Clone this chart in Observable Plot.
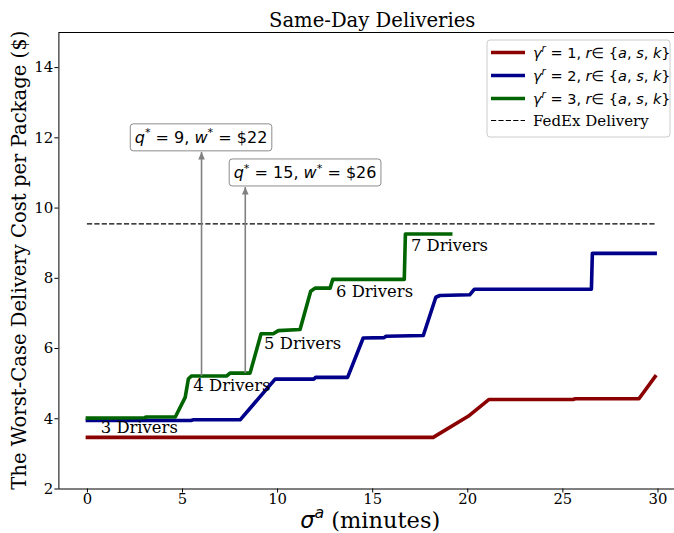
<!DOCTYPE html>
<html>
<head>
<meta charset="utf-8">
<script src="https://cdn.jsdelivr.net/npm/d3@7"></script>
<script src="https://cdn.jsdelivr.net/npm/@observablehq/plot@0.6"></script>
<style>
  html, body { margin: 0; padding: 0; background: #fff; overflow: hidden; }
  #chart svg { display: block; }
</style>
</head>
<body>
<div id="chart"></div>
<script>
// Worst-case delivery cost per package against σ^a, one series per γ^r level
const redX   = [0, 18.18, 20.02, 21.12, 25.54, 25.65, 29.0, 29.85];
const redY   = [3.47, 3.47, 4.07, 4.55, 4.55, 4.57, 4.57, 5.2];

const blueX  = [0, 5.45, 5.55, 8.03, 9.87, 11.9, 12.0, 13.68, 14.5, 15.6, 15.7, 17.66, 18.32, 18.53, 20.1, 20.35, 26.5, 26.55, 29.85];
const blueY  = [3.95, 3.95, 3.97, 3.97, 5.13, 5.13, 5.18, 5.18, 6.30, 6.31, 6.35, 6.37, 7.46, 7.51, 7.53, 7.69, 7.69, 8.71, 8.71];

const greenX = [0, 3.0, 3.1, 4.62, 5.14, 5.31, 5.48, 7.33, 7.5, 8.55, 9.13, 9.77, 10.04, 11.18, 11.74, 11.97, 12.76, 12.9, 16.66, 16.72, 19.1];
const greenY = [4.02, 4.03, 4.05, 4.05, 4.61, 5.14, 5.22, 5.22, 5.30, 5.30, 6.42, 6.42, 6.51, 6.54, 7.63, 7.72, 7.72, 7.97, 7.97, 9.26, 9.26];

// FedEx benchmark cost
const fedexX = [0, 29.85];
const fedexY = 9.55;

// fleet-size labels placed along the γ^r = 3 curve
const driverText = ["3 Drivers", "4 Drivers", "5 Drivers", "6 Drivers", "7 Drivers"];
const driverX    = [0.7, 5.57, 9.29, 13.07, 17.01];
const driverY    = [3.59, 4.80, 5.99, 7.48, 8.79];

// optimal (q*, w*) call-outs
const annoText   = ["q^* = 9, w^* = $22", "q^* = 15, w^* = $26"];
const annoX      = [6.0, 8.3];
const annoFrom   = [5.22, 5.30];
const annoTo     = [11.6, 10.6];
const annoBoxX   = [6.0, 11.47];
const annoBoxY   = [12.0, 11.0];

// axes
const xTicks = [0, 5, 10, 15, 20, 25, 30];
const yTicks = [2, 4, 6, 8, 10, 12, 14];

// legend entries
const legendText  = ["γ^r = 1, r∈ {a, s, k}", "γ^r = 2, r∈ {a, s, k}", "γ^r = 3, r∈ {a, s, k}", "FedEx Delivery"];
const legendColor = ["#8b0000", "#00008b", "#006400", "#000000"];

const toRows = (xs, ys) => xs.map((x, i) => ({x, y: ys[i]}));
const redRows = toRows(redX, redY);
const blueRows = toRows(blueX, blueY);
const greenRows = toRows(greenX, greenY);
const drivers = driverText.map((t, i) => ({t, x: driverX[i], y: driverY[i]}));
const annos = annoText.map((t, i) => ({t, x: annoX[i], from: annoFrom[i], to: annoTo[i], bx: annoBoxX[i], by: annoBoxY[i]}));

const SERIF = "'DejaVu Serif', serif";
const SANS = "'DejaVu Sans', sans-serif";

// filled arrow head with its tip at the anchor point
const arrowHead = {
  draw(ctx) {
    ctx.moveTo(0, 0);
    ctx.lineTo(-3.3, 7.5);
    ctx.lineTo(3.3, 7.5);
    ctx.closePath();
  }
};

const lineStyle = {x: "x", y: "y", strokeWidth: 3.6, strokeLinecap: "square", strokeLinejoin: "round"};

const W = 674, H = 533;
const mL = 58.4, mR = -12, mT = 32, mB = 44.5;

const plot = Plot.plot({
  width: W,
  height: H,
  marginLeft: mL,
  marginRight: mR,
  marginTop: mT,
  marginBottom: mB,
  style: {fontFamily: SERIF, fontSize: "15px", background: "#fff", color: "#000", overflow: "hidden"},
  x: {domain: [-1.5, 31.5]},
  y: {domain: [2, 15]},
  marks: [
    Plot.axisX({ticks: xTicks, tickSize: 4, tickPadding: 0, label: null, fontSize: 14.8, tickFormat: d => String(d)}),
    Plot.axisY({ticks: yTicks, tickSize: 4, tickPadding: 1.5, label: null, fontSize: 15, tickFormat: d => String(d)}),
    Plot.ruleY([fedexY], {x1: fedexX[0], x2: fedexX[1], stroke: "#000", strokeWidth: 1.1, strokeDasharray: "5.2,2.2"}),
    Plot.line(redRows, {...lineStyle, stroke: legendColor[0]}),
    Plot.line(blueRows, {...lineStyle, stroke: legendColor[1]}),
    Plot.line(greenRows, {...lineStyle, stroke: legendColor[2]}),
    Plot.link(annos, {x1: "x", y1: "from", x2: "x", y2: "to", stroke: "#808080", strokeWidth: 1.6}),
    Plot.dot(annos, {x: "x", y: "to", symbol: arrowHead, fill: "#808080", stroke: null, r: 4}),
    Plot.text(drivers, {x: "x", y: "y", text: "t", textAnchor: "start", lineAnchor: "middle", dy: -5.3, fontSize: 16.4, fill: "#000", fontFamily: SERIF}),
    Plot.frame({stroke: "#000", strokeWidth: 1})
  ]
});

document.getElementById("chart").appendChild(plot);

const svg = d3.select(plot);
const sx = plot.scale("x"), sy = plot.scale("y");
const cx = (mL + (W - mR)) / 2;
const cy = (mT + (H - mB)) / 2;

// mathtext-like rendering: single letters italic, ^x raised
function richText(sel, str, size) {
  let i = 0, raised = false;
  const shift = size * 0.42;
  while (i < str.length) {
    let ch = str[i];
    let sup = false;
    if (ch === "^" && i + 1 < str.length) { sup = true; ch = str[i + 1]; i += 2; } else { i += 1; }
    const italic = /[A-Za-zα-ω]/.test(ch);
    const ts = sel.append("tspan").text(ch)
      .attr("font-style", italic ? "italic" : "normal")
      .attr("font-size", sup ? size * 0.7 : size);
    if (sup && !raised) { ts.attr("dy", -shift); raised = true; }
    else if (!sup && raised) { ts.attr("dy", shift); raised = false; }
  }
}

// title and axis labels
svg.append("text").attr("x", cx).attr("y", 27).attr("text-anchor", "middle")
  .attr("font-family", SERIF).attr("font-size", 19.6).text("Same-Day Deliveries");

svg.append("text").attr("transform", `translate(26,${cy}) rotate(-90)`).attr("text-anchor", "middle")
  .attr("font-family", SERIF).attr("font-size", 19.6).text("The Worst-Case Delivery Cost per Package ($)");

const xl = svg.append("text").attr("x", cx - 2).attr("y", 527.5).attr("text-anchor", "middle")
  .attr("font-family", SERIF).attr("font-size", 22.5);
xl.append("tspan").attr("font-family", SANS).attr("font-style", "italic").text("σ");
xl.append("tspan").attr("font-family", SANS).attr("font-style", "italic").attr("font-size", 15.8).attr("dy", -9.5).text("a");
xl.append("tspan").attr("dy", 9.5).text(" (minutes)");

// boxed call-outs
annos.forEach(a => {
  const g = svg.append("g");
  const px = sx.apply(a.bx), py = sy.apply(a.by);
  const t = g.append("text").attr("x", px).attr("y", py + 5.8).attr("text-anchor", "middle")
    .attr("font-family", SANS).attr("font-size", 16);
  richText(t, a.t, 16);
  const bb = t.node().getBBox();
  g.insert("rect", "text")
    .attr("x", bb.x - 4.5).attr("y", py - 13.5)
    .attr("width", bb.width + 9).attr("height", 27)
    .attr("rx", 3).attr("fill", "#fff").attr("stroke", "#8c8c8c").attr("stroke-width", 1);
});

// legend
const lg = svg.append("g").attr("text-anchor", "start");
lg.append("rect").attr("x", 487).attr("y", 40).attr("width", 183).attr("height", 97).attr("rx", 3)
  .attr("fill", "#fff").attr("fill-opacity", 0.8).attr("stroke", "#cccccc").attr("stroke-width", 1);
const rowY = [52.5, 75.5, 98.5, 120.5];
legendText.forEach((label, i) => {
  const y = rowY[i];
  const dashed = i === 3;
  lg.append("line").attr("x1", 491).attr("x2", 525).attr("y1", y).attr("y2", y)
    .attr("stroke", legendColor[i])
    .attr("stroke-width", dashed ? 1.1 : 3.6)
    .attr("stroke-dasharray", dashed ? "5.2,2.2" : null);
  const t = lg.append("text").attr("x", 533).attr("y", y + 5.2).attr("font-size", 14.5)
    .attr("text-anchor", "start");
  if (dashed) {
    t.attr("font-family", SERIF).attr("font-size", 15).text(label);
  } else {
    t.attr("font-family", SANS);
    richText(t, label, 14.5);
  }
});
</script>
</body>
</html>
